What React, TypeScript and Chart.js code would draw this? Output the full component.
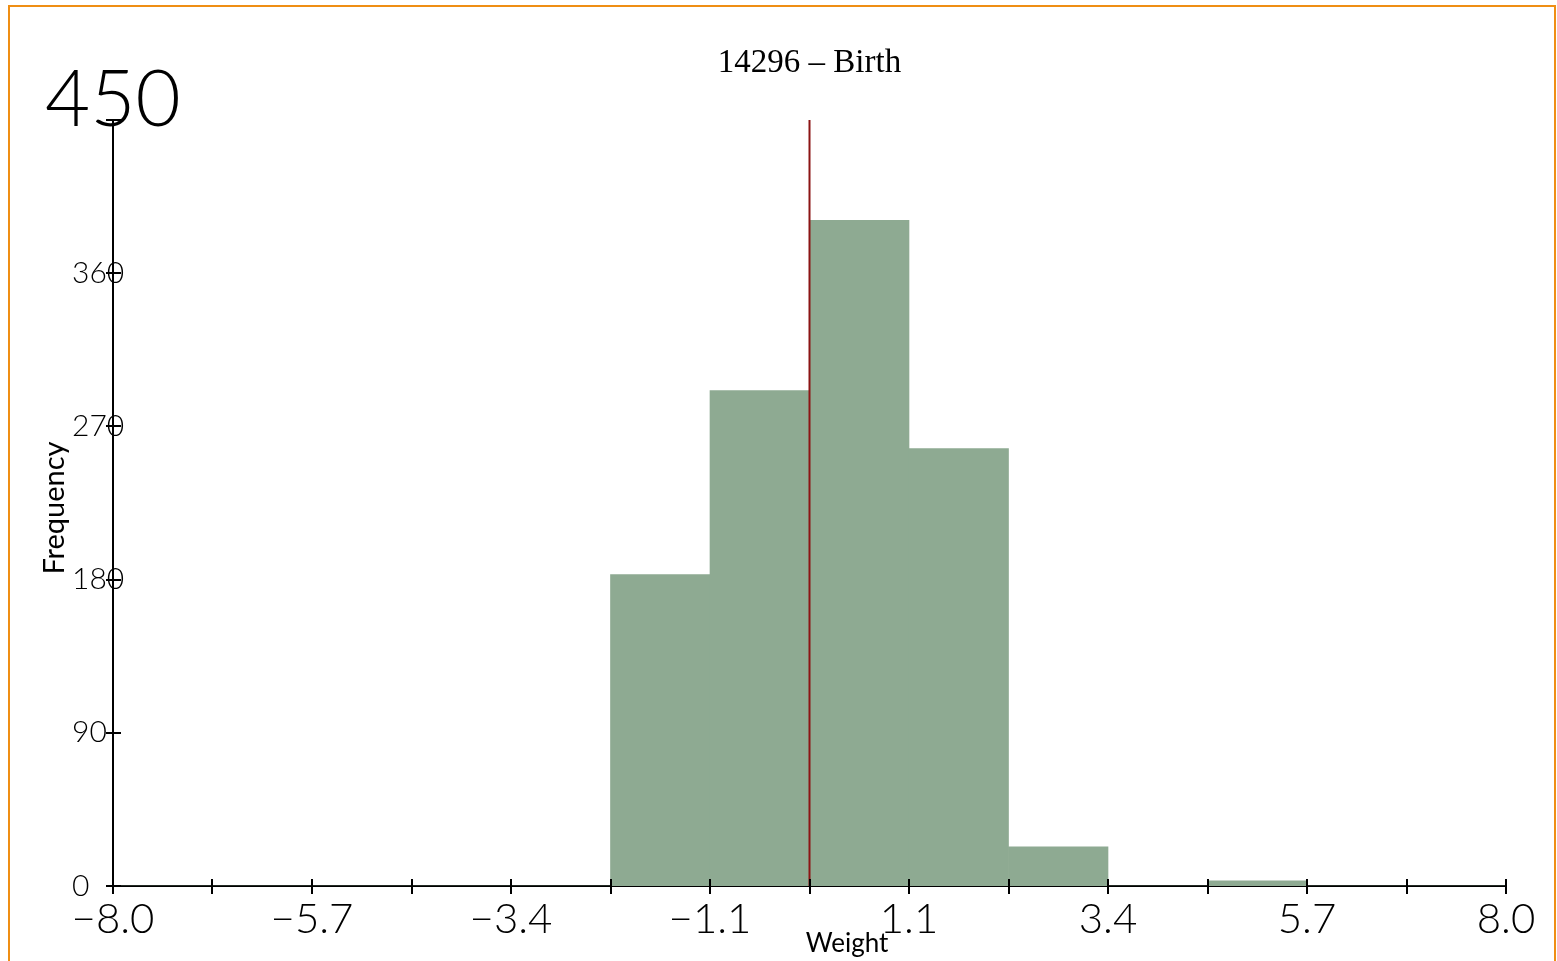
import React, { useEffect, useRef } from "react";
import { Chart, registerables } from "chart.js";

Chart.register(...registerables);

// Histogram of weights: 14 equal bins between -8 and 8
const binLabels = [
  "-8.00 to -6.86", "-6.86 to -5.71", "-5.71 to -4.57", "-4.57 to -3.43",
  "-3.43 to -2.29", "-2.29 to -1.14", "-1.14 to 0.00", "0.00 to 1.14",
  "1.14 to 2.29", "2.29 to 3.43", "3.43 to 4.57", "4.57 to 5.71",
  "5.71 to 6.86", "6.86 to 8.00",
];
const frequencies = [0, 0, 0, 0, 0, 183, 291, 391, 257, 23, 0, 3, 0, 0];

// Labels on the bin edges (every other edge is labelled)
const xTickLabels = [
  "\u22128.0", "", "\u22125.7", "", "\u22123.4", "", "\u22121.1", "",
  "1.1", "", "3.4", "", "5.7", "", "8.0",
];
const xMin = -8;
const xMax = 8;
const yTickValues = [0, 90, 180, 270, 360, 450];
const meanWeight = 0;

const titleText = "14296 \u2013 Birth";
const xTitle = "Weight";
const yTitle = "Frequency";

const numberFont = "Lato";

const decorPlugin = {
  id: "decor",
  afterDraw(chart: any) {
    const { ctx, chartArea, scales } = chart;
    const xs = scales.x;
    const ys = scales.y;
    ctx.save();
    ctx.strokeStyle = "#000";
    ctx.lineWidth = 2;
    // tick marks crossing the axes
    xs.ticks.forEach((t: any) => {
      const px = Math.round(xs.getPixelForValue(t.value));
      ctx.beginPath();
      ctx.moveTo(px, chartArea.bottom - 7);
      ctx.lineTo(px, chartArea.bottom + 8);
      ctx.stroke();
    });
    ys.ticks.forEach((t: any) => {
      const py = Math.round(ys.getPixelForValue(t.value));
      ctx.beginPath();
      ctx.moveTo(chartArea.left - 7, py);
      ctx.lineTo(chartArea.left + 8, py);
      ctx.stroke();
    });

    // y tick labels
    ctx.fillStyle = "#000";
    ctx.textAlign = "left";
    ctx.textBaseline = "middle";
    yTickValues.forEach((v) => {
      const py = ys.getPixelForValue(v);
      if (v === ys.max) {
        ctx.font = `300 78px ${numberFont}`;
        ctx.fillText(String(v), 45, py - 19);
      } else {
        ctx.font = `300 30px ${numberFont}`;
        ctx.fillText(String(v), 72, py);
      }
    });

    // title
    ctx.font = "33px 'Liberation Serif'";
    ctx.textAlign = "center";
    ctx.textBaseline = "middle";
    ctx.fillText(titleText, (chartArea.left + chartArea.right) / 2, 63);

    // axis titles
    ctx.font = `26px ${numberFont}`;
    ctx.textBaseline = "alphabetic";
    ctx.fillText(xTitle, chartArea.left + (chartArea.right - chartArea.left) * 0.527, 952);

    ctx.translate(64, (chartArea.top + chartArea.bottom) / 2 + 5);
    ctx.rotate(-Math.PI / 2);
    ctx.font = `29px ${numberFont}`;
    ctx.fillText(yTitle, 0, 0);
    ctx.restore();
  },
};

export default function App() {
  const canvasRef = useRef<HTMLCanvasElement | null>(null);

  useEffect(() => {
    if (!canvasRef.current) return;
    const edges = xTickLabels.map(
      (_, i) => xMin + (i * (xMax - xMin)) / (xTickLabels.length - 1)
    );
    const chart = new Chart(canvasRef.current, {
      type: "bar",
      data: {
        labels: binLabels,
        datasets: [
          {
            type: "line",
            label: "Mean",
            data: [
              { x: meanWeight, y: 0 },
              { x: meanWeight, y: yTickValues[yTickValues.length - 1] },
            ],
            xAxisID: "x",
            yAxisID: "y",
            borderColor: "#8c1414",
            borderWidth: 2,
            pointRadius: 0,
            order: 0,
          } as any,
          {
            type: "bar",
            label: "Frequency",
            data: frequencies,
            xAxisID: "xb",
            yAxisID: "y",
            backgroundColor: "#8eaa92",
            borderWidth: 0,
            barPercentage: 1,
            categoryPercentage: 1,
            grouped: false,
            order: 1,
          },
        ],
      },
      plugins: [decorPlugin],
      options: {
        animation: false,
        responsive: false,
        maintainAspectRatio: false,
        layout: { padding: { top: 120, right: 51, left: 0, bottom: 0 } },
        plugins: {
          legend: { display: false },
          tooltip: { enabled: false },
          title: { display: false },
        },
        scales: {
          xb: {
            type: "category",
            display: false,
            offset: true,
          },
          x: {
            type: "linear",
            position: "bottom",
            offset: false,
            min: xMin,
            max: xMax,
            afterBuildTicks: (scale: any) => {
              scale.ticks = edges.map((v) => ({ value: v }));
            },
            afterFit: (scale: any) => {
              scale.height = 75;
            },
            grid: { display: false, offset: false, drawTicks: true, tickLength: 8 },
            border: { display: true, color: "#000", width: 2 },
            ticks: {
              autoSkip: false,
              maxRotation: 0,
              minRotation: 0,
              padding: 0,
              color: "#000",
              font: { family: numberFont, size: 42, weight: "300" },
              callback: (_v: any, i: number) => xTickLabels[i],
            },
          },
          y: {
            type: "linear",
            min: yTickValues[0],
            max: yTickValues[yTickValues.length - 1],
            afterBuildTicks: (scale: any) => {
              scale.ticks = yTickValues.map((v) => ({ value: v }));
            },
            afterFit: (scale: any) => {
              scale.width = 113;
            },
            grid: { display: false },
            border: { display: true, color: "#000", width: 2 },
            ticks: { display: false },
          },
        },
      },
    });
    return () => chart.destroy();
  }, []);

  return (
    <div
      style={{
        position: "absolute",
        left: 0,
        top: 0,
        width: 1557,
        height: 961,
        background: "#fff",
        overflow: "hidden",
      }}
    >
      <canvas
        ref={canvasRef}
        width={1557}
        height={961}
        style={{ position: "absolute", left: 0, top: 0, width: 1557, height: 961 }}
      />
      <div
        style={{
          position: "absolute",
          left: 8,
          top: 5,
          width: 1548,
          height: 1000,
          boxSizing: "border-box",
          border: "2px solid #ef8e14",
          pointerEvents: "none",
        }}
      />
    </div>
  );
}
